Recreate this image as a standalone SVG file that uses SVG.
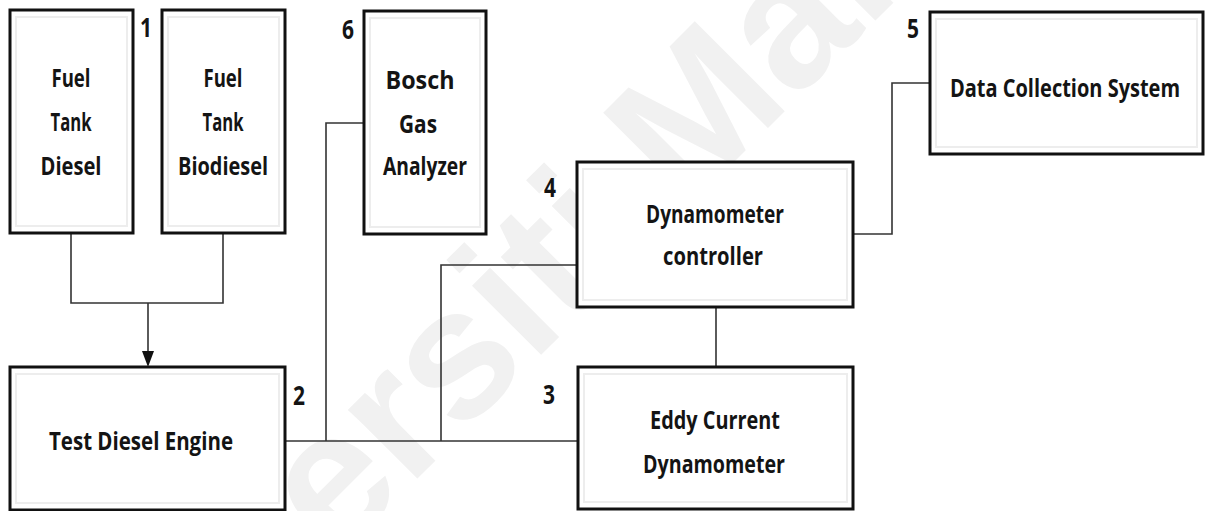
<svg xmlns="http://www.w3.org/2000/svg" width="1205" height="511" viewBox="0 0 1205 511">
  <style>
    .box { fill: #ffffff; stroke: #111111; stroke-width: 3; }
    .inner { fill: none; stroke: #ededed; stroke-width: 2; }
    .lbl { font-family: "Open Sans", "Liberation Sans", sans-serif; font-weight: 700; font-size: 25px; fill: #141414; text-anchor: middle; }
    .num { font-family: "Open Sans", "Liberation Sans", sans-serif; font-weight: 700; font-size: 27px; fill: #141414; text-anchor: middle; }
    .wire { fill: none; stroke: #333333; stroke-width: 1.6; }
    .mark { font-family: "Liberation Sans", sans-serif; font-weight: bold; font-size: 185px; fill: #f1f1f1; }
  </style>

  <rect x="0" y="0" width="1205" height="511" fill="#ffffff"/>

  <!-- background watermark -->
  <text class="mark" transform="translate(52,844) rotate(-45)">Universiti Malaya</text>

  <!-- connectors -->
  <g id="connectors">
    <path class="wire" d="M71 234 V303 H223 V234"/>
    <path class="wire" d="M148 303 V352"/>
    <polygon points="142,351 154,351 148,367" fill="#111111"/>
    <path class="wire" d="M364 123 H326 V441"/>
    <path class="wire" d="M285 441 H577"/>
    <path class="wire" d="M441 441 V265 H577"/>
    <path class="wire" d="M716 307 V367"/>
    <path class="wire" d="M853 234 H892 V83 H930"/>
  </g>

  <!-- 1: fuel tanks -->
  <g id="tank-diesel">
    <rect class="box" x="10" y="10" width="123" height="223"/>
    <rect class="inner" x="16" y="17" width="111" height="209"/>
    <text class="lbl" x="71" y="87" textLength="39" lengthAdjust="spacingAndGlyphs">Fuel</text>
    <text class="lbl" x="71" y="131" textLength="41" lengthAdjust="spacingAndGlyphs">Tank</text>
    <text class="lbl" x="71" y="175" textLength="61" lengthAdjust="spacingAndGlyphs">Diesel</text>
  </g>
  <g id="tank-biodiesel">
    <rect class="box" x="162" y="10" width="123" height="223"/>
    <rect class="inner" x="168" y="17" width="111" height="209"/>
    <text class="lbl" x="223" y="87" textLength="39" lengthAdjust="spacingAndGlyphs">Fuel</text>
    <text class="lbl" x="223" y="131" textLength="41" lengthAdjust="spacingAndGlyphs">Tank</text>
    <text class="lbl" x="223" y="175" textLength="90" lengthAdjust="spacingAndGlyphs">Biodiesel</text>
  </g>
  <text class="num" x="146" y="37" textLength="12" lengthAdjust="spacingAndGlyphs">1</text>

  <!-- 6: gas analyzer -->
  <g id="gas-analyzer">
    <rect class="box" x="364" y="11" width="122" height="223"/>
    <rect class="inner" x="370" y="18" width="110" height="209"/>
    <text class="lbl" x="420" y="89" textLength="69" lengthAdjust="spacingAndGlyphs">Bosch</text>
    <text class="lbl" x="418" y="133" textLength="38" lengthAdjust="spacingAndGlyphs">Gas</text>
    <text class="lbl" x="425" y="175" textLength="84" lengthAdjust="spacingAndGlyphs">Analyzer</text>
    <text class="num" x="348" y="39" textLength="12" lengthAdjust="spacingAndGlyphs">6</text>
  </g>

  <!-- 5: data collection (horizontally condensed to fit the box) -->
  <g id="data-collection">
    <rect class="box" x="930" y="12" width="273" height="142"/>
    <rect class="inner" x="936" y="19" width="261" height="128"/>
    <text class="lbl" transform="translate(1065,97) scale(0.8,1)" x="0" y="0">Data Collection  System</text>
    <text class="num" x="913" y="38" textLength="12" lengthAdjust="spacingAndGlyphs">5</text>
  </g>

  <!-- 4: dynamometer controller -->
  <g id="dyno-controller">
    <rect class="box" x="577" y="162" width="276" height="145"/>
    <rect class="inner" x="583" y="169" width="264" height="131"/>
    <text class="lbl" x="715" y="223" textLength="138" lengthAdjust="spacingAndGlyphs">Dynamometer</text>
    <text class="lbl" x="713" y="265" textLength="100" lengthAdjust="spacingAndGlyphs">controller</text>
    <text class="num" x="550" y="197" textLength="12" lengthAdjust="spacingAndGlyphs">4</text>
  </g>

  <!-- 2: engine -->
  <g id="engine">
    <rect class="box" x="10" y="367" width="275" height="143"/>
    <rect class="inner" x="16" y="374" width="263" height="129"/>
    <text class="lbl" x="141" y="450" textLength="184" lengthAdjust="spacingAndGlyphs">Test Diesel Engine</text>
    <text class="num" x="299" y="405" textLength="12" lengthAdjust="spacingAndGlyphs">2</text>
  </g>

  <!-- 3: eddy current dynamometer -->
  <g id="eddy-dyno">
    <rect class="box" x="578" y="367" width="275" height="142"/>
    <rect class="inner" x="584" y="374" width="263" height="128"/>
    <text class="lbl" x="715" y="429" textLength="130" lengthAdjust="spacingAndGlyphs">Eddy Current</text>
    <text class="lbl" x="714" y="473" textLength="142" lengthAdjust="spacingAndGlyphs">Dynamometer</text>
    <text class="num" x="549" y="404" textLength="12" lengthAdjust="spacingAndGlyphs">3</text>
  </g>
</svg>
